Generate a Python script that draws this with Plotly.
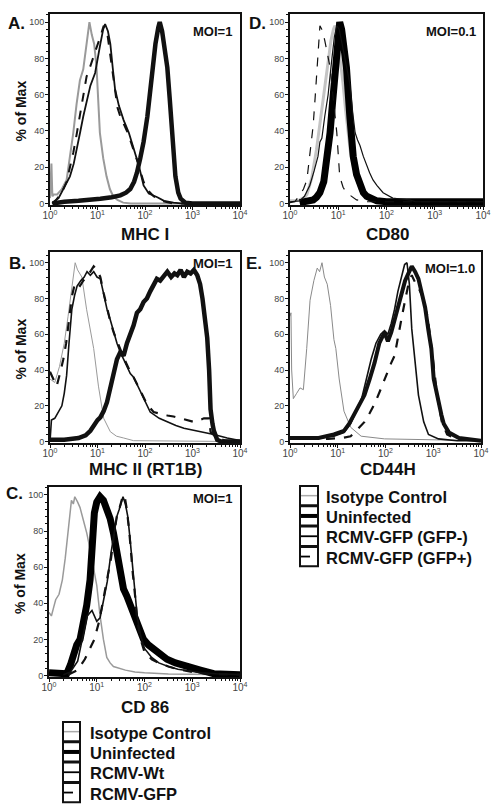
import plotly.graph_objects as go

W, H = 497, 807

# ---------------- data: x = log10(fluorescence), y = % of Max ----------------
# Panel A  (MHC I)
mhc1_iso_x = [0.0, 0.03, 0.05, 0.08, 0.15, 0.25, 0.35, 0.42, 0.49, 0.56, 0.63, 0.70, 0.76, 0.83, 0.88, 0.93, 0.98, 1.02, 1.05, 1.12, 1.19, 1.26, 1.33, 1.42, 1.54, 1.7, 2.5, 4.0]
mhc1_iso_y = [3, 22, 4, 5, 5, 8, 13, 25, 39, 55, 68, 74, 86, 100, 93, 88, 75, 55, 39, 25, 15, 8, 4, 2, 0.5, 0, 0, 0]
mhc1_uninf_x = [0.05, 0.3, 0.6, 0.9, 1.06, 1.3, 1.48, 1.6, 1.69, 1.77, 1.83, 1.9, 1.97, 2.05, 2.1, 2.15, 2.22, 2.28, 2.31, 2.36, 2.42, 2.47, 2.52, 2.57, 2.64, 2.7, 2.75, 2.85, 3.0, 4.0]
mhc1_uninf_y = [0, 1, 1.5, 2, 2.7, 3.5, 4.5, 6, 8, 12, 17, 25, 34, 48, 60, 75, 88, 97, 100, 95, 85, 75, 58, 39, 15, 6, 2.7, 0.5, 0, 0]
mhc1_wt_x = [0.05, 0.08, 0.18, 0.28, 0.35, 0.42, 0.5, 0.57, 0.64, 0.7, 0.78, 0.85, 0.95, 1.0, 1.06, 1.12, 1.16, 1.22, 1.27, 1.32, 1.37, 1.45, 1.55, 1.66, 1.77, 1.87, 1.97, 2.08, 2.26, 2.4, 2.6, 2.8, 4.0]
mhc1_wt_y = [0, 1, 3, 8, 11, 15, 22, 32, 40, 48, 58, 65, 72, 80, 88, 96, 99, 95, 88, 75, 63, 54, 46, 39, 30, 21, 10, 5.5, 3.5, 1.5, 0.5, 0, 0]
mhc1_gfp_x = [0.05, 0.13, 0.25, 0.35, 0.42, 0.49, 0.56, 0.63, 0.7, 0.77, 0.84, 0.91, 0.98, 1.06, 1.13, 1.2, 1.27, 1.32, 1.37, 1.42, 1.48, 1.55, 1.62, 1.69, 1.76, 1.83, 1.9, 1.97, 2.04, 2.18, 2.35, 2.6, 4.0]
mhc1_gfp_y = [0, 2, 6, 12, 20, 28, 38, 48, 60, 70, 75, 80, 86, 92, 98, 95, 81, 70, 60, 53, 48, 44, 40, 35, 30, 24, 18, 12, 8, 4, 1.5, 0, 0]

# Panel D  (CD80)
cd80_iso_x = [0.0, 0.1, 0.2, 0.3, 0.35, 0.45, 0.55, 0.62, 0.69, 0.74, 0.79, 0.85, 0.9, 0.93, 0.97, 1.03, 1.1, 1.15, 1.2, 1.25, 1.31, 1.38, 1.45, 1.55, 1.65, 1.8, 2.2, 4.0]
cd80_iso_y = [1.5, 1.5, 2, 3.5, 5, 14, 30, 44, 57, 70, 80, 90, 96, 98, 95, 82, 66, 52, 39, 29, 21, 14, 8, 4, 2, 1.5, 1.5, 1.5]
cd80_uninf_x = [0.2, 0.4, 0.48, 0.55, 0.62, 0.7, 0.77, 0.83, 0.88, 0.93, 0.97, 1.0, 1.03, 1.07, 1.12, 1.17, 1.24, 1.31, 1.38, 1.45, 1.52, 1.59, 1.7, 1.8, 2.0, 4.0]
cd80_uninf_y = [0.5, 1, 2, 3.5, 6, 12, 24, 39, 55, 72, 90, 97, 100, 96, 88, 75, 48, 26, 16, 10, 6, 4, 2.5, 1.5, 1, 1]
cd80_neg_x = [0.0, 0.2, 0.3, 0.41, 0.5, 0.58, 0.62, 0.66, 0.72, 0.79, 0.86, 0.92, 0.97, 1.02, 1.08, 1.15, 1.24, 1.3, 1.35, 1.4, 1.45, 1.52, 1.59, 1.65, 1.72, 1.8, 1.93, 2.05, 2.13, 2.3, 2.48, 2.6, 4.0]
cd80_neg_y = [1, 1.5, 4, 10, 18, 26, 34, 36, 48, 60, 78, 92, 98, 96, 88, 78, 66, 50, 39, 35, 32, 26, 21, 17, 13, 10, 6, 4, 3, 2.5, 2, 1, 1]
cd80_pos_x = [0.0, 0.1, 0.21, 0.28, 0.35, 0.42, 0.48, 0.52, 0.55, 0.58, 0.62, 0.66, 0.72, 0.78, 0.83, 0.9, 0.97, 1.03, 1.1, 1.17, 1.27, 1.38, 1.6, 4.0]
cd80_pos_y = [0.5, 1, 5, 8, 13, 28, 43, 58, 70, 82, 98, 96, 90, 82, 75, 57, 39, 15, 9, 6, 4, 2, 1, 1]

# Panel B  (MHC II)
mhc2_iso_x = [0.0, 0.1, 0.2, 0.3, 0.38, 0.45, 0.5, 0.53, 0.58, 0.67, 0.77, 0.85, 0.92, 1.02, 1.06, 1.13, 1.27, 1.4, 1.55, 1.76, 4.0]
mhc2_iso_y = [35, 33, 42, 55, 70, 85, 95, 100, 96, 92, 74, 62, 52, 31, 24, 13, 5.5, 3, 2, 0.5, 0]
mhc2_uninf_x = [0.0, 0.3, 0.6, 0.75, 0.85, 0.92, 1.0, 1.06, 1.13, 1.2, 1.27, 1.34, 1.41, 1.48, 1.55, 1.62, 1.69, 1.76, 1.83, 1.9, 1.97, 2.04, 2.11, 2.18, 2.25, 2.32, 2.4, 2.47, 2.55, 2.62, 2.68, 2.75, 2.82, 2.89, 2.96, 3.03, 3.1, 3.16, 3.21, 3.26, 3.31, 3.35, 3.38, 3.42, 3.45, 3.52, 3.6, 4.0]
mhc2_uninf_y = [1, 1, 2, 3.5, 6, 9, 12, 13.5, 17, 22, 30, 40, 46, 50, 48, 55, 60, 65, 72, 74, 78, 80, 84, 88, 91, 90, 93, 95, 92, 94, 93, 96, 92, 95, 94, 96, 93, 88, 80, 70, 58, 40, 18, 10, 6, 1, 0, 0]
mhc2_wt_x = [0.0, 0.03, 0.1, 0.21, 0.25, 0.3, 0.35, 0.4, 0.46, 0.52, 0.57, 0.65, 0.72, 0.78, 0.85, 0.92, 0.99, 1.06, 1.13, 1.2, 1.27, 1.34, 1.41, 1.48, 1.55, 1.62, 1.69, 1.76, 1.83, 1.9, 1.97, 2.04, 2.11, 2.3, 2.47, 2.65, 2.82, 3.0, 3.17, 3.45, 3.73, 3.95, 4.0]
mhc2_wt_y = [0, 12, 13, 18, 20, 27, 37, 55, 74, 82, 87, 90, 92, 95, 93, 95, 92, 91, 82, 74, 68, 61, 55, 50, 46, 42, 38, 36, 32, 29, 25, 21, 16.5, 13, 11, 9, 7.5, 6.5, 5.5, 4, 2, 1, 0.5]
mhc2_gfp_x = [0.0, 0.07, 0.14, 0.21, 0.28, 0.34, 0.39, 0.46, 0.53, 0.63, 0.7, 0.78, 0.85, 0.92, 0.99, 1.06, 1.13, 1.2, 1.27, 1.34, 1.41, 1.48, 1.55, 1.62, 1.69, 1.76, 1.83, 1.9, 1.97, 2.04, 2.18, 2.32, 2.47, 2.6, 2.75, 2.9, 3.03, 3.15, 3.24, 3.35, 3.38, 3.45, 3.52, 3.7, 4.0]
mhc2_gfp_y = [39, 35, 31, 38, 46, 55, 65, 81, 89, 87, 90, 92, 95, 98, 96, 92, 83, 74, 67, 61, 56, 52, 47, 43, 39, 36, 32, 29, 25, 21, 16.5, 15.5, 14.6, 14, 13, 12, 11, 12, 13, 13, 5.5, 3.5, 2, 0.5, 0]

# Panel E  (CD44H)
cd44_iso_x = [0.0, 0.02, 0.035, 0.07, 0.14, 0.21, 0.28, 0.32, 0.35, 0.42, 0.5, 0.57, 0.62, 0.67, 0.72, 0.78, 0.85, 0.92, 0.96, 1.03, 1.13, 1.27, 1.49, 1.98, 4.0]
cd44_iso_y = [70, 72, 40, 24, 27, 30, 29, 40, 52, 79, 90, 97, 95, 100, 92, 88, 76, 57, 52, 35, 17, 8, 3, 1.5, 0.5]
cd44_uninf_x = [0.0, 0.21, 0.6, 0.92, 1.13, 1.24, 1.34, 1.45, 1.56, 1.67, 1.77, 1.87, 1.93, 1.98, 2.05, 2.12, 2.19, 2.26, 2.33, 2.41, 2.48, 2.55, 2.62, 2.69, 2.76, 2.83, 2.9, 2.96, 3.01, 3.06, 3.11, 3.17, 3.22, 3.33, 3.54, 4.0]
cd44_uninf_y = [2, 2, 2, 4, 6, 10, 15, 20, 26, 35, 44, 55, 58, 61, 56, 61, 68, 75, 82, 90, 94, 98, 95, 91, 83, 75, 62, 52, 35, 28, 21, 15, 10, 5, 2, 0.5]
cd44_neg_x = [0.0, 0.5, 0.92, 1.13, 1.27, 1.38, 1.5, 1.6, 1.7, 1.8, 1.9, 1.98, 2.05, 2.12, 2.19, 2.26, 2.33, 2.4, 2.45, 2.5, 2.55, 2.62, 2.69, 2.8, 2.9, 3.11, 3.5, 4.0]
cd44_neg_y = [2, 1.5, 3, 5, 10, 17, 24, 35, 46, 55, 60, 62, 60, 66, 74, 84, 92, 99, 100, 88, 63, 44, 26, 11, 4, 1.5, 0.5, 0.5]
cd44_pos_x = [0.0, 0.8, 1.1, 1.27, 1.42, 1.56, 1.67, 1.77, 1.88, 1.98, 2.05, 2.12, 2.19, 2.26, 2.33, 2.41, 2.48, 2.55, 2.62, 2.69, 2.76, 2.82, 2.87, 2.92, 2.97, 3.03, 3.08, 3.13, 3.18, 3.29, 3.47, 4.0]
cd44_pos_y = [1.5, 1.5, 2, 3, 7, 11, 16, 21, 28, 35, 40, 44, 48, 57, 68, 79, 88, 93, 89, 86, 82, 76, 71, 62, 52, 38, 26, 18, 11, 4, 1.5, 0.5]

# Panel C  (CD 86)
cd86_iso_x = [0.0, 0.05, 0.1, 0.14, 0.21, 0.28, 0.34, 0.4, 0.44, 0.47, 0.51, 0.54, 0.6, 0.65, 0.72, 0.79, 0.86, 0.93, 1.0, 1.07, 1.14, 1.21, 1.28, 1.35, 1.6, 1.8, 2.0, 2.5, 4.0]
cd86_iso_y = [35, 33, 38, 42, 45, 53, 65, 79, 90, 97, 95, 99, 96, 93, 86, 79, 70, 60, 50, 33, 20, 10, 7, 5, 3, 2, 1.5, 0.8, 0.5]
cd86_uninf_x = [0.0, 0.2, 0.37, 0.45, 0.51, 0.58, 0.65, 0.72, 0.79, 0.86, 0.9, 0.95, 1.0, 1.07, 1.14, 1.21, 1.28, 1.35, 1.42, 1.49, 1.56, 1.63, 1.7, 1.77, 1.84, 1.91, 1.98, 2.08, 2.19, 2.33, 2.47, 2.65, 2.82, 3.0, 3.17, 3.31, 3.45, 4.0]
cd86_uninf_y = [1.5, 1, 1, 6, 13, 17, 20, 28, 39, 53, 75, 90, 96, 99, 97, 93, 87, 79, 70, 60, 48, 44, 39, 33, 28, 24, 20, 17, 15, 12, 9, 7, 6, 4.5, 3, 2, 1, 0.5]
cd86_wt_x = [0.3, 0.45, 0.6, 0.7, 0.8, 0.9, 1.0, 1.07, 1.15, 1.22, 1.3, 1.37, 1.42, 1.47, 1.52, 1.55, 1.6, 1.65, 1.7, 1.75, 1.8, 1.85, 1.92, 2.0, 2.15, 2.3, 2.5, 2.7, 2.95, 3.2, 3.5, 4.0]
cd86_wt_y = [0.5, 2, 8, 20, 33, 36, 30, 32, 42, 52, 68, 80, 88, 92, 97, 99, 95, 88, 75, 62, 45, 32, 22, 15, 10, 7, 5, 3.5, 2.5, 1.5, 1, 0.5]
cd86_gfp_x = [0.4, 0.6, 0.75, 0.85, 0.95, 1.05, 1.12, 1.18, 1.24, 1.3, 1.36, 1.42, 1.48, 1.53, 1.58, 1.63, 1.68, 1.72, 1.76, 1.8, 1.85, 1.92, 2.0, 2.15, 2.3, 2.5, 2.7, 3.0, 3.3, 4.0]
cd86_gfp_y = [0.5, 3, 9, 15, 20, 30, 40, 48, 55, 65, 78, 88, 93, 98, 100, 92, 80, 66, 55, 45, 30, 20, 13, 9, 7, 5, 3.5, 2, 1, 0.5]

# text
panel_letters = ["A.", "D.", "B.", "E.", "C."]
panel_titles = ["MHC I", "CD80", "MHC II (RT1B)", "CD44H", "CD 86"]
panel_moi = ["MOI=1", "MOI=0.1", "MOI=1", "MOI=1.0", "MOI=1"]
x_tick_vals = [1, 10, 100, 1000, 10000]
x_tick_text = ["10<sup>0</sup>", "10<sup>1</sup>", "10<sup>2</sup>", "10<sup>3</sup>", "10<sup>4</sup>"]
y_tick_vals = [0, 20, 40, 60, 80, 100]
y_title = "% of Max"
legend_C_labels = ["Isotype Control", "Uninfected", "RCMV-Wt", "RCMV-GFP"]
legend_E_labels = ["Isotype Control", "Uninfected", "RCMV-GFP (GFP-)", "RCMV-GFP (GFP+)"]

# ---------------- layout helpers ----------------
def px_x(p):
    return p / W

def px_y(p):
    return 1 - p / H

FONT = "Liberation Sans, Arial, sans-serif"

panels = [
    dict(ax="", xd=(50, 240), yd=(14, 205), ytop=104.5, letter=(16, 23), moi=(212, 32), title=(145, 234), ylab=True,
         series=[(mhc1_iso_x, mhc1_iso_y, "#9a9a9a", 2, "solid"),
                 (mhc1_uninf_x, mhc1_uninf_y, "#111", 4.5, "solid"),
                 (mhc1_wt_x, mhc1_wt_y, "#111", 1.8, "solid"),
                 (mhc1_gfp_x, mhc1_gfp_y, "#111", 2, "dash")]),
    dict(ax="2", xd=(290, 483), yd=(14, 205), ytop=104.5, letter=(257, 23), moi=(451, 32), title=(387, 234), ylab=False,
         series=[(cd80_iso_x, cd80_iso_y, "#c4c4c4", 3, "solid"),
                 (cd80_uninf_x, cd80_uninf_y, "#000", 7, "solid"),
                 (cd80_neg_x, cd80_neg_y, "#111", 1.2, "solid"),
                 (cd80_pos_x, cd80_pos_y, "#111", 1.2, "dash")]),
    dict(ax="3", xd=(50, 240), yd=(252, 443), ytop=106, letter=(17, 264), moi=(212, 263), title=(145, 469), ylab=True,
         series=[(mhc2_iso_x, mhc2_iso_y, "#9a9a9a", 1, "solid"),
                 (mhc2_uninf_x, mhc2_uninf_y, "#111", 4.5, "solid"),
                 (mhc2_wt_x, mhc2_wt_y, "#111", 1.6, "solid"),
                 (mhc2_gfp_x, mhc2_gfp_y, "#111", 2.2, "dash")]),
    dict(ax="4", xd=(290, 481), yd=(252, 443), ytop=106, letter=(254, 263), moi=(450, 269), title=(388, 469), ylab=False,
         series=[(cd44_iso_x, cd44_iso_y, "#8a8a8a", 1, "solid"),
                 (cd44_uninf_x, cd44_uninf_y, "#111", 4, "solid"),
                 (cd44_neg_x, cd44_neg_y, "#111", 1.6, "solid"),
                 (cd44_pos_x, cd44_pos_y, "#111", 2.2, "dash")]),
    dict(ax="5", xd=(49, 240), yd=(487, 677), ytop=104.4, letter=(14, 493), moi=(212, 498), title=(145, 707), ylab=True,
         series=[(cd86_iso_x, cd86_iso_y, "#9a9a9a", 1.5, "solid"),
                 (cd86_uninf_x, cd86_uninf_y, "#000", 7, "solid"),
                 (cd86_wt_x, cd86_wt_y, "#111", 1.6, "solid"),
                 (cd86_gfp_x, cd86_gfp_y, "#111", 2.2, "dash")]),
]

minor_x = [k * 10 ** d for d in range(4) for k in range(2, 10)]

fig = go.Figure()
layout = dict(width=W, height=H, margin=dict(l=0, r=0, t=0, b=0, pad=0), autosize=False,
              paper_bgcolor="white", plot_bgcolor="white", showlegend=False,
              font=dict(family=FONT, color="#111"))
annotations = []
shapes = []


def label(text, x, y, size, xanchor="center", angle=0):
    annotations.append(dict(text="<b>" + text + "</b>", x=px_x(x), y=px_y(y), xref="paper", yref="paper",
                            xanchor=xanchor, yanchor="middle", showarrow=False, textangle=angle,
                            font=dict(size=size, family=FONT, color="#111")))


for i, p in enumerate(panels):
    xa = "xaxis" + p["ax"]
    ya = "yaxis" + p["ax"]
    xr = "x" + p["ax"]
    yr = "y" + p["ax"]
    for xs, ys, col, lw, dash in p["series"]:
        fig.add_trace(go.Scatter(x=[10 ** v for v in xs], y=ys, mode="lines",
                                 line=dict(color=col, width=lw, dash=dash),
                                 xaxis=xr, yaxis=yr, hoverinfo="skip"))
    layout[xa] = dict(type="log", range=[0, 4], domain=[px_x(p["xd"][0]), px_x(p["xd"][1])], anchor=yr,
                      showline=True, linewidth=2, linecolor="#111", mirror=True,
                      ticks="outside", ticklen=3, tickwidth=1, tickcolor="#111",
                      tickvals=x_tick_vals, ticktext=x_tick_text, ticklabelstandoff=-3,
                      tickfont=dict(size=10, color="#444", family=FONT),
                      minor=dict(tickvals=minor_x, ticks="outside", ticklen=2, tickwidth=1, tickcolor="#111"),
                      showgrid=False, zeroline=False, automargin=False)
    layout[ya] = dict(range=[-0.8, p["ytop"]], domain=[px_y(p["yd"][1]), px_y(p["yd"][0])], anchor=xr,
                      showline=True, linewidth=2, linecolor="#111", mirror=True,
                      ticks="outside", ticklen=3, tickwidth=1, tickcolor="#111",
                      tickvals=y_tick_vals, ticklabelstandoff=-1, tickfont=dict(size=9, color="#444", family=FONT),
                      minor=dict(dtick=4, ticks="outside", ticklen=2, tickwidth=1, tickcolor="#111"),
                      showgrid=False, zeroline=False, automargin=False)
    label(panel_letters[i], p["letter"][0], p["letter"][1], 17)
    label(panel_moi[i], p["moi"][0], p["moi"][1], 13)
    label(panel_titles[i], p["title"][0], p["title"][1], 17)
    if p["ylab"]:
        yc = (p["yd"][0] + p["yd"][1]) / 2 + 2
        label(y_title, 20, yc, 14, angle=-90)

legend_styles = [("#aaaaaa", 1.5, "solid"), ("#000", 4, "solid"), ("#000", 1.8, "solid"), ("#000", 1.8, "dash")]


def add_legend(labels, bx0, bx1, top, pitch, text_x):
    for k, lab in enumerate(labels):
        y0 = top + k * pitch
        y1 = y0 + pitch - 1
        shapes.append(dict(type="rect", xref="paper", yref="paper", x0=px_x(bx0), x1=px_x(bx1),
                           y0=px_y(y1), y1=px_y(y0), line=dict(color="#111", width=2), fillcolor="white"))
        col, lw, dash = legend_styles[k]
        yc = (y0 + y1) / 2
        shapes.append(dict(type="line", xref="paper", yref="paper", x0=px_x(bx0 + 1), x1=px_x(bx1 - 1),
                           y0=px_y(yc), y1=px_y(yc), line=dict(color=col, width=lw, dash=dash)))
        label(lab, text_x, yc + 1, 16.5, xanchor="left")


add_legend(legend_C_labels, 63, 80, 722, 20.3, 88)
add_legend(legend_E_labels, 300, 318, 486, 20.3, 324)

layout["annotations"] = annotations
layout["shapes"] = shapes
fig.update_layout(**layout)
fig.write_html("out.html", config={"displayModeBar": False, "staticPlot": True},
               post_script="document.body.style.margin='0';document.body.style.overflow='hidden';")
